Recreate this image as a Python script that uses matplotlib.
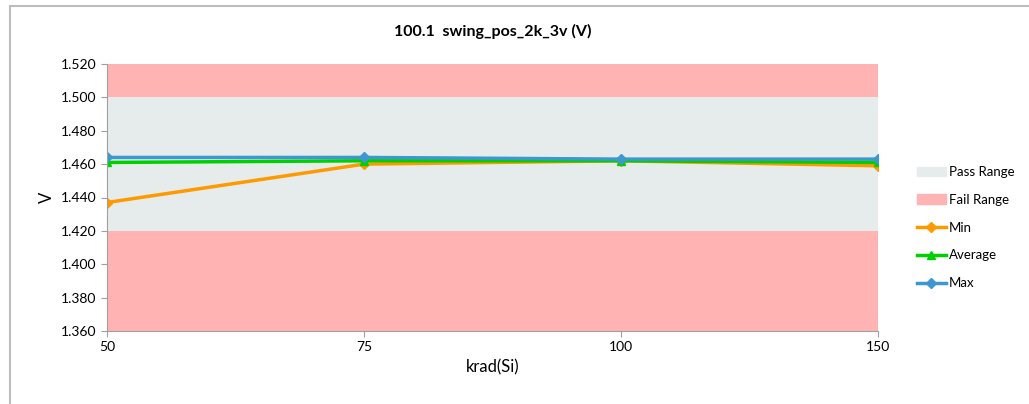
import matplotlib
matplotlib.use("Agg")
import matplotlib.pyplot as plt
from matplotlib.patches import Patch
from matplotlib.lines import Line2D

plt.rcParams['font.family'] = ['Lato', 'DejaVu Sans']

categories = ["50", "75", "100", "150"]
min_vals = [1.437, 1.460, 1.462, 1.459]
avg_vals = [1.461, 1.462, 1.462, 1.461]
max_vals = [1.464, 1.464, 1.463, 1.463]
pass_low, pass_high = 1.420, 1.500
y_min, y_max = 1.360, 1.520
y_ticks = [1.360, 1.380, 1.400, 1.420, 1.440, 1.460, 1.480, 1.500, 1.520]

W, H = 1029, 404
fig = plt.figure(figsize=(W / 100, H / 100), dpi=100)
# chart-area border: only top and left edges visible
fig.add_artist(Line2D([9.5 / W, 1], [1 - 5.5 / H, 1 - 5.5 / H], transform=fig.transFigure,
                      color='#BDBDBD', lw=1.5))
fig.add_artist(Line2D([9.5 / W, 9.5 / W], [0, 1 - 5.5 / H], transform=fig.transFigure,
                      color='#BDBDBD', lw=1.5))

ax = fig.add_axes([107 / W, (H - 331) / H, (878 - 107) / W, (331 - 64) / H])

x = list(range(len(categories)))
ax.axhspan(y_min, pass_low, color='#FFB3B3', lw=0)
ax.axhspan(pass_high, y_max, color='#FFB3B3', lw=0)
ax.axhspan(pass_low, pass_high, color='#E6ECEC', lw=0)

ax.plot(x, min_vals, color='#FF9900', lw=2.5, marker='D', ms=5, label='Min')
ax.plot(x, avg_vals, color='#00D000', lw=2.5, marker='^', ms=6, label='Average')
ax.plot(x, max_vals, color='#3D97D0', lw=2.5, marker='D', ms=5, label='Max')

ax.set_xlim(0, len(categories) - 1)
ax.set_ylim(y_min, y_max)
ax.set_xticks(x)
ax.set_xticklabels(categories, fontsize=10)
ax.set_yticks(y_ticks)
ax.set_yticklabels([f"{v:.3f}" for v in y_ticks], fontsize=10)
for s in ['top', 'right']:
    ax.spines[s].set_visible(False)
for s in ['left', 'bottom']:
    ax.spines[s].set_color('#A0A0A0')
ax.tick_params(axis='y', length=4, color='#A0A0A0')
ax.tick_params(axis='x', length=4, color='#A0A0A0')
ax.set_xlabel('krad(Si)', fontsize=12)
ax.set_ylabel('V', fontsize=12)
ax.set_title('100.1  swing_pos_2k_3v (V)', fontsize=11.5, fontweight='bold', pad=20)

handles = [Patch(color='#E6ECEC', label='Pass Range'),
           Patch(color='#FFB3B3', label='Fail Range'),
           Line2D([], [], color='#FF9900', lw=2.5, marker='D', ms=5, label='Min'),
           Line2D([], [], color='#00D000', lw=2.5, marker='^', ms=6, label='Average'),
           Line2D([], [], color='#3D97D0', lw=2.5, marker='D', ms=5, label='Max')]
fig.legend(handles=handles, loc='upper left', bbox_to_anchor=(905 / W, 1 - 154 / H),
           frameon=False, fontsize=9.5, handlelength=2.2, labelspacing=1.2, handletextpad=0.2)

fig.savefig('out.png', dpi=100)
